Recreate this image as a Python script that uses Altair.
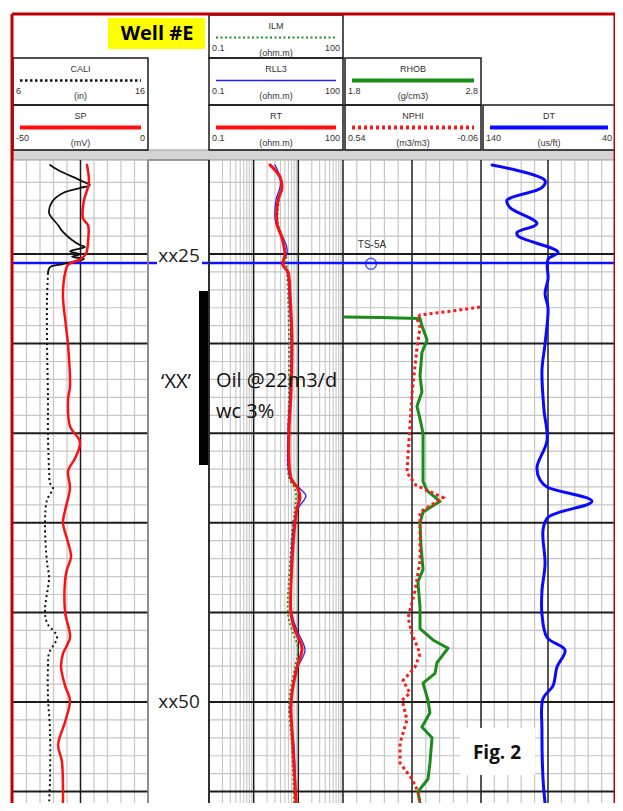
import altair as alt
import pandas as pd

# ---------------------------------------------------------------- data
CALI_DEPTH = [20.03, 20.31, 20.93, 21.15, 21.32, 21.60, 22.10, 22.71, 22.99, 23.38,
              23.77, 24.22, 24.50, 24.61, 24.85, 25.02, 25.15, 25.28, 25.56, 25.73,
              26.06, 27.5, 30.0, 33.0, 35.0, 37.0, 37.78, 38.06, 38.73, 40.01,
              42.24, 43.03, 44.87, 45.59, 46.37, 47.27, 48.05, 49.72, 51.56, 54.35, 55.64]
CALI = [8.74, 9.33, 11.11, 11.70, 10.96, 9.70, 8.89, 8.67, 8.89, 9.33,
        9.70, 10.37, 10.96, 11.33, 10.22, 10.96, 10.37, 11.26, 9.70, 8.74,
        8.59, 8.52, 8.52, 8.59, 8.59, 8.67, 8.74, 8.96, 8.52, 8.37,
        8.52, 8.67, 8.37, 8.52, 9.26, 8.67, 8.59, 8.59, 8.74, 8.74, 8.67]
CALI_DOTTED_FROM = 26.06

SP_DEPTH = [20.03, 21.03, 22.0, 23.0, 23.4, 24.3, 25.0, 25.3, 25.6, 26.06,
            27.3, 29.0, 30.1, 32.4, 33.1, 34.6, 35.5, 36.4, 37.1, 38.06,
            39.3, 40.0, 41.1, 41.9, 42.6, 43.2, 45.0, 46.4, 47.3, 48.05,
            49.1, 49.9, 51.1, 52.4, 53.3, 55.64]
SP = [-22.6, -21.9, -23.7, -24.1, -22.2, -22.2, -23.0, -25.2, -29.6, -30.7,
      -31.5, -30.4, -29.6, -28.9, -29.6, -28.9, -25.2, -27.0, -29.6, -28.9,
      -30.7, -31.5, -29.6, -28.5, -30.0, -30.7, -30.7, -28.9, -31.5, -32.2,
      -30.7, -28.9, -30.7, -33.3, -31.9, -31.5]

RT_DEPTH = [20.03, 20.7, 21.3, 22.0, 23.3, 24.1, 25.0, 25.6, 26.0, 27.2,
            30.0, 32.8, 35.0, 37.5, 38.1, 38.6, 39.2, 40.0, 42.3, 45.1,
            46.0, 47.0, 48.05, 49.5, 50.3, 52.5, 55.64]
RT = [2.32, 3.88, 4.30, 3.51, 3.33, 4.30, 5.02, 4.54, 5.87, 6.50,
      7.21, 6.85, 6.18, 6.85, 9.82, 10.9, 9.33, 8.42, 7.21, 6.85,
      8.42, 12.1, 9.33, 7.21, 6.85, 7.59, 8.87]

RLL3_DEPTH = [20.03, 20.7, 21.3, 22.0, 23.3, 24.1, 24.6, 25.0, 25.6, 26.0,
              27.2, 30.0, 32.8, 35.0, 37.5, 38.1, 38.5, 39.2, 40.0, 42.3,
              45.1, 46.0, 47.1, 48.05, 49.5, 50.3, 52.5, 55.64]
RLL3 = [3.0, 3.88, 3.88, 3.15, 3.15, 4.54, 5.5, 5.57, 4.30, 5.57,
        6.18, 6.85, 6.50, 5.87, 6.50, 10.9, 14.8, 9.82, 8.0, 6.85,
        7.21, 9.33, 14.1, 9.82, 7.21, 6.50, 8.0, 8.87]

ILM_DEPTH = [20.5, 21.3, 22.0, 23.3, 24.1, 25.0, 26.0, 27.2, 30.0, 32.8,
             35.0, 37.5, 38.1, 38.6, 39.2, 40.0, 42.3, 45.1, 46.0, 47.0,
             48.05, 49.5, 50.3, 52.5, 55.64]
ILM = [3.51, 4.30, 3.70, 3.51, 4.54, 5.29, 5.57, 5.87, 6.18, 6.18,
       5.87, 6.18, 8.42, 8.87, 8.42, 7.59, 6.50, 5.87, 7.21, 9.82,
       8.42, 6.50, 6.18, 7.21, 8.0]

RHOB_DEPTH = [28.52, 28.55, 28.6, 29.0, 29.8, 30.5, 31.8, 32.7, 33.5, 34.2,
              35.0, 36.5, 37.7, 38.2, 38.8, 39.4, 40.0, 41.3, 42.6, 43.3,
              44.7, 45.9, 46.54, 47.0, 47.8, 48.4, 48.95, 49.9, 50.6, 51.4,
              52.0, 53.4, 54.3, 55.0, 55.64]
RHOB = [1.814, 2.068, 2.358, 2.372, 2.409, 2.372, 2.358, 2.372, 2.336, 2.358,
        2.380, 2.380, 2.380, 2.409, 2.503, 2.380, 2.358, 2.365, 2.380, 2.343,
        2.358, 2.358, 2.452, 2.561, 2.481, 2.467, 2.380, 2.416, 2.430, 2.372,
        2.445, 2.430, 2.416, 2.343, 2.358]

NPHI_DEPTH = [27.96, 28.2, 28.4, 28.6, 29.1, 30.2, 32.8, 34.6, 37.2, 37.9,
              38.6, 39.4, 42.1, 43.8, 45.3, 46.2, 47.3, 48.05, 48.8, 49.5,
              49.9, 51.0, 52.3, 53.4, 54.3, 55.0, 55.64]
NPHI = [-0.056, 0.075, 0.205, 0.218, 0.205, 0.218, 0.240, 0.249, 0.262, 0.223,
        0.105, 0.205, 0.205, 0.227, 0.257, 0.240, 0.205, 0.227, 0.279, 0.249,
        0.283, 0.262, 0.292, 0.292, 0.240, 0.214, 0.205]

DT_DEPTH = [20.03, 20.9, 21.3, 22.0, 22.4, 23.3, 23.8, 24.0, 24.9, 25.3,
            26.4, 27.2, 28.0, 30.0, 31.5, 33.7, 35.4, 36.9, 37.6, 38.0,
            38.8, 39.7, 40.4, 42.3, 43.8, 45.1, 46.4, 47.1, 48.05, 49.1,
            49.8, 51.6, 54.3, 55.64]
DT = [131.8, 92.2, 94.5, 120.6, 118.4, 98.2, 113.1, 112.4, 82.5, 90.0,
      90.0, 92.2, 90.0, 92.2, 94.5, 93.0, 90.7, 98.2, 96.0, 90.7,
      57.2, 90.0, 93.7, 92.2, 94.5, 94.5, 90.7, 77.3, 83.3, 86.3,
      93.7, 94.5, 93.7, 92.2]

DEPTH_LABELS = ["xx25", "xx50"]
DEPTH_LABEL_AT = [25.1, 50]
PERF_TOP, PERF_BASE = 27.06, 36.77
MARKER_NAME, MARKER_DEPTH, MARKER_LABEL_DEPTH = "TS-5A", 25.5, 24.5
ZONE_NAME = "\u2018XX\u2019"
TEST_TEXT = ["Oil @22m3/d", "wc 3%"]
TEST_DEPTH = [32.09, 33.82]
ZONE_DEPTH = 32.14
FIG_TEXT = "Fig. 2"
FIG_TOP, FIG_BASE, FIG_TEXT_DEPTH = 51.45, 54.07, 52.85
WELL_NAME = "Well #E"

# header legend entries: name, left, right, unit
HEADERS = [
    ("ILM", "0.1", "100", "(ohm.m)"),
    ("CALI", "6", "16", "(in)"),
    ("RLL3", "0.1", "100", "(ohm.m)"),
    ("RHOB", "1.8", "2.8", "(g/cm3)"),
    ("SP", "-50", "0", "(mV)"),
    ("RT", "0.1", "100", "(ohm.m)"),
    ("NPHI", "0.54", "-0.06", "(m3/m3)"),
    ("DT", "140", "40", "(us/ft)"),
]

# ---------------------------------------------------------------- layout
W, H = 607, 795


def px(v):
    return v - 8  # page pixel -> chart pixel


TOP, BOT = 152, 795
T1 = (px(13), px(148))
T2 = (px(209), px(343))
T3 = (px(343), px(481))
T4 = (px(481), px(615))

HEADER_BOX = {
    "ILM": (209, 15, 343, 58), "CALI": (13, 58, 148, 105),
    "RLL3": (209, 58, 343, 105), "RHOB": (345, 58, 481, 105),
    "SP": (13, 105, 148, 150), "RT": (209, 105, 343, 150),
    "NPHI": (345, 105, 481, 150), "DT": (483, 105, 615, 150),
}
STYLE = {
    "ILM": dict(color="#1f8f1f", strokeWidth=1.8, strokeDash=[2, 2.5]),
    "CALI": dict(color="#111111", strokeWidth=2, strokeDash=[2, 3]),
    "RLL3": dict(color="#2222ff", strokeWidth=1.3),
    "RHOB": dict(color="#1a8c1a", strokeWidth=3),
    "SP": dict(color="#ff1010", strokeWidth=2.5),
    "RT": dict(color="#ff1010", strokeWidth=3),
    "NPHI": dict(color="#ff1a1a", strokeWidth=3, strokeDash=[3, 3]),
    "DT": dict(color="#0a0aff", strokeWidth=3),
}
HEAD_STYLE = {
    "ILM": dict(color="#1f8f1f", strokeWidth=2, strokeDash=[2, 2.5]),
    "CALI": dict(color="#111111", strokeWidth=2.5, strokeDash=[2.5, 2.5]),
    "RLL3": dict(color="#2222ff", strokeWidth=1.5),
    "RHOB": dict(color="#1a8c1a", strokeWidth=4),
    "SP": dict(color="#ff1010", strokeWidth=4),
    "RT": dict(color="#ff1010", strokeWidth=4),
    "NPHI": dict(color="#ff1a1a", strokeWidth=4, strokeDash=[3, 3]),
    "DT": dict(color="#0a0aff", strokeWidth=4),
}


def sc(domain, rng, typ="linear"):
    return alt.Scale(type=typ, domain=domain, range=rng, nice=False, zero=False)


DEPTH_SCALE = sc([19.755, 55.636], [TOP, BOT])
PIXX = sc([0, W], [0, W])
PIXY = sc([0, H], [0, H])
SP_SCALE = sc([-50, 0], list(T1))
CALI_SCALE = sc([6, 16], list(T1))
RES_SCALE = sc([0.1, 100], list(T2), "log")
RHOB_SCALE = sc([1.8, 2.8], list(T3))
NPHI_SCALE = sc([-0.06, 0.54], [T3[1], T3[0]])
DT_SCALE = sc([40, 140], [T4[1], T4[0]])

layers = []


def rects(df, **mk):
    return alt.Chart(df).mark_rect(**mk).encode(
        x=alt.X("x1:Q", scale=PIXX, axis=None), x2="x2:Q",
        y=alt.Y("y1:Q", scale=PIXY, axis=None), y2="y2:Q")


def vrules(values, scale, color, width):
    df = pd.DataFrame({"v": values})
    return alt.Chart(df).mark_rule(color=color, strokeWidth=width).encode(
        x=alt.X("v:Q", scale=scale, axis=None),
        y=alt.value(TOP), y2=alt.value(BOT))


def hrules(depths, color, width):
    segs = [(T1[0], T1[1]), (T2[0], T4[1])]
    rows = [{"d": d, "x1": a, "x2": b} for d in depths for a, b in segs]
    df = pd.DataFrame(rows)
    return alt.Chart(df).mark_rule(color=color, strokeWidth=width).encode(
        y=alt.Y("d:Q", scale=DEPTH_SCALE, axis=None),
        x=alt.X("x1:Q", scale=PIXX, axis=None), x2="x2:Q")


def curve(depths, values, scale, style, interp="catmull-rom"):
    df = pd.DataFrame({"depth": depths, "value": values})
    extra = {} if "strokeDash" in style else dict(strokeCap="round", strokeJoin="round")
    return alt.Chart(df).mark_line(interpolate=interp, **extra, **style).encode(
        x=alt.X("value:Q", scale=scale, axis=None),
        y=alt.Y("depth:Q", scale=DEPTH_SCALE, axis=None),
        order="depth:Q")


# ---- header background
layers.append(rects(pd.DataFrame([{"x1": px(13), "x2": px(615), "y1": px(150), "y2": px(160)}]),
                    fill="#d4d4d4", stroke="#9a9a9a", strokeWidth=1))
layers.append(rects(pd.DataFrame([{"x1": px(108), "x2": px(205), "y1": px(18), "y2": px(49)}]),
                    fill="#ffff00"))

# ---- grid (light)
LIGHT, DARK = "#c6c6c6", "#1c1c1c"
layers.append(vrules([7, 8, 9, 10, 12, 13, 14, 15], CALI_SCALE, LIGHT, 1.2))
log_minor = [m * 10 ** e for e in (-1, 0, 1) for m in range(2, 10)]
layers.append(vrules(log_minor, RES_SCALE, LIGHT, 1.1))
layers.append(vrules([1.9, 2.0, 2.1, 2.2, 2.4, 2.5, 2.6, 2.7], RHOB_SCALE, LIGHT, 1.2))
layers.append(vrules([50, 60, 70, 80, 100, 110, 120, 130], DT_SCALE, LIGHT, 1.2))
minor_depths = [d for d in range(21, 56) if d % 5]
layers.append(hrules(minor_depths, LIGHT, 1.2))
# ---- grid (dark)
layers.append(vrules([11], CALI_SCALE, DARK, 1.5))
layers.append(vrules([16], CALI_SCALE, "#8c8c8c", 1.8))
layers.append(vrules([0.1, 1, 10, 100], RES_SCALE, DARK, 1.5))
layers.append(vrules([2.3, 2.8], RHOB_SCALE, DARK, 1.5))
layers.append(vrules([90], DT_SCALE, DARK, 1.5))
layers.append(hrules([25, 30, 35, 40, 45, 50, 55], DARK, 2))

# ---- perforation, marker
perf = pd.DataFrame({"top": [PERF_TOP], "base": [PERF_BASE], "x1": [px(199)], "x2": [px(209)]})
layers.append(alt.Chart(perf).mark_rect(color="#000000").encode(
    x=alt.X("x1:Q", scale=PIXX, axis=None), x2="x2:Q",
    y=alt.Y("top:Q", scale=DEPTH_SCALE, axis=None), y2="base:Q"))

mk_rows = [{"d": MARKER_DEPTH, "x1": px(13), "x2": px(157)},
           {"d": MARKER_DEPTH, "x1": px(202), "x2": px(615)}]
layers.append(alt.Chart(pd.DataFrame(mk_rows)).mark_rule(color="#1010ff", strokeWidth=2.5).encode(
    y=alt.Y("d:Q", scale=DEPTH_SCALE, axis=None),
    x=alt.X("x1:Q", scale=PIXX, axis=None), x2="x2:Q"))

# ---- curves
cali_df = pd.DataFrame({"depth": CALI_DEPTH, "value": CALI})
up = cali_df[cali_df.depth <= CALI_DOTTED_FROM]
lo = cali_df[cali_df.depth >= CALI_DOTTED_FROM]
layers.append(curve(list(up.depth), list(up.value), CALI_SCALE,
                    dict(color="#111111", strokeWidth=1.8)))
layers.append(curve(list(lo.depth), list(lo.value), CALI_SCALE, STYLE["CALI"]))
layers.append(curve(SP_DEPTH, SP, SP_SCALE, STYLE["SP"]))
layers.append(curve(ILM_DEPTH, ILM, RES_SCALE, STYLE["ILM"]))
layers.append(curve(RLL3_DEPTH, RLL3, RES_SCALE, STYLE["RLL3"]))
layers.append(curve(RT_DEPTH, RT, RES_SCALE, STYLE["RT"]))
layers.append(curve(RHOB_DEPTH, RHOB, RHOB_SCALE, STYLE["RHOB"], "linear"))
layers.append(curve(NPHI_DEPTH, NPHI, NPHI_SCALE, STYLE["NPHI"], "linear"))
layers.append(curve(DT_DEPTH, DT, DT_SCALE, STYLE["DT"]))

# marker circle + label
circ = pd.DataFrame({"d": [MARKER_DEPTH + 0.05], "x": [px(371)]})
layers.append(alt.Chart(circ).mark_point(shape="circle", size=120, filled=False,
                                         color="#1010ff", strokeWidth=1.5).encode(
    x=alt.X("x:Q", scale=PIXX, axis=None), y=alt.Y("d:Q", scale=DEPTH_SCALE, axis=None)))
lab = pd.DataFrame({"d": [MARKER_LABEL_DEPTH], "x": [px(372)], "t": [MARKER_NAME]})
layers.append(alt.Chart(lab).mark_text(font="Liberation Sans", fontSize=10, color="#333333",
                                       align="center", baseline="middle").encode(
    x=alt.X("x:Q", scale=PIXX, axis=None), y=alt.Y("d:Q", scale=DEPTH_SCALE, axis=None), text="t:N"))


# ---- annotations
def depth_text(depths, xs, texts, **mk):
    df = pd.DataFrame({"d": depths, "x": xs, "t": texts})
    return alt.Chart(df).mark_text(baseline="middle", **mk).encode(
        x=alt.X("x:Q", scale=PIXX, axis=None), y=alt.Y("d:Q", scale=DEPTH_SCALE, axis=None),
        text="t:N")


layers.append(depth_text(DEPTH_LABEL_AT, [px(179)] * 2, DEPTH_LABELS,
                         font="Open Sans", fontSize=19, color="#222222", align="center"))
layers.append(depth_text([ZONE_DEPTH], [px(176)], [ZONE_NAME],
                         font="Open Sans", fontSize=20, color="#111111", align="center"))
layers.append(depth_text(TEST_DEPTH, [px(216)] * 2, TEST_TEXT,
                         font="Open Sans", fontSize=20, color="#111111", align="left"))

fig = pd.DataFrame({"top": [FIG_TOP], "base": [FIG_BASE], "x1": [px(460)], "x2": [px(535)]})
layers.append(alt.Chart(fig).mark_rect(color="#ffffff").encode(
    x=alt.X("x1:Q", scale=PIXX, axis=None), x2="x2:Q",
    y=alt.Y("top:Q", scale=DEPTH_SCALE, axis=None), y2="base:Q"))
layers.append(depth_text([FIG_TEXT_DEPTH], [px(497)], [FIG_TEXT],
                         font="Open Sans", fontSize=19, fontWeight="bold",
                         color="#111111", align="center"))

# ---- header boxes, texts, sample lines
box_rows = [{"x1": px(b[0]), "x2": px(b[2]), "y1": px(b[1]), "y2": px(b[3])}
            for b in HEADER_BOX.values()]
layers.append(rects(pd.DataFrame(box_rows), fill="#ffffff", fillOpacity=0,
                    stroke="#1a1a1a", strokeWidth=1.5))

t_center, t_left, t_right = [], [], []
for name, lft, rgt, unit in HEADERS:
    x1, y1, x2, y2 = HEADER_BOX[name]
    cx = (x1 + x2) / 2
    t_center.append({"x": px(cx), "y": px(y1 + 11), "t": name})
    t_center.append({"x": px(cx), "y": px(y1 + 38), "t": unit})
    t_left.append({"x": px(x1 + 3), "y": px(y1 + 33), "t": lft})
    t_right.append({"x": px(x2 - 3), "y": px(y1 + 33), "t": rgt})
    seg = pd.DataFrame([{"x1": px(x1 + 7), "x2": px(x2 - 7), "y": px(y1 + 22.5)}])
    layers.append(alt.Chart(seg).mark_rule(**HEAD_STYLE[name]).encode(
        x=alt.X("x1:Q", scale=PIXX, axis=None), x2="x2:Q",
        y=alt.Y("y:Q", scale=PIXY, axis=None)))

for rows, al in ((t_center, "center"), (t_left, "left"), (t_right, "right")):
    layers.append(alt.Chart(pd.DataFrame(rows)).mark_text(
        font="Liberation Sans", fontSize=9, color="#333333", align=al, baseline="middle").encode(
        x=alt.X("x:Q", scale=PIXX, axis=None), y=alt.Y("y:Q", scale=PIXY, axis=None), text="t:N"))

well = pd.DataFrame([{"x": px(157), "y": px(34), "t": WELL_NAME}])
layers.append(alt.Chart(well).mark_text(font="Open Sans", fontSize=20, fontWeight="bold",
                                        color="#000000", align="center", baseline="middle").encode(
    x=alt.X("x:Q", scale=PIXX, axis=None), y=alt.Y("y:Q", scale=PIXY, axis=None), text="t:N"))

# depth track border
layers.append(rects(pd.DataFrame([{"x1": px(148), "x2": px(209), "y1": TOP, "y2": BOT + 2}]),
                    fillOpacity=0, stroke="#8c8c8c", strokeWidth=1.5))
layers.append(vrules([0.1], RES_SCALE, DARK, 1.6))

# ---- red frame
frame = pd.DataFrame([
    {"x1": px(12), "x2": px(12), "y1": px(14), "y2": H},
    {"x1": px(615), "x2": px(615), "y1": px(14), "y2": H},
    {"x1": px(12), "x2": px(615), "y1": px(14), "y2": px(14)},
])
layers.append(alt.Chart(frame).mark_rule(color="#c00000", strokeWidth=3).encode(
    x=alt.X("x1:Q", scale=PIXX, axis=None), x2="x2:Q",
    y=alt.Y("y1:Q", scale=PIXY, axis=None), y2="y2:Q"))

chart = alt.layer(*layers).resolve_scale(x="independent", y="independent").properties(
    width=W, height=H, padding=0, autosize=alt.AutoSizeParams(type="none")
).configure_view(strokeWidth=0)

chart.save("out.html", embed_options={"renderer": "svg", "actions": False})
